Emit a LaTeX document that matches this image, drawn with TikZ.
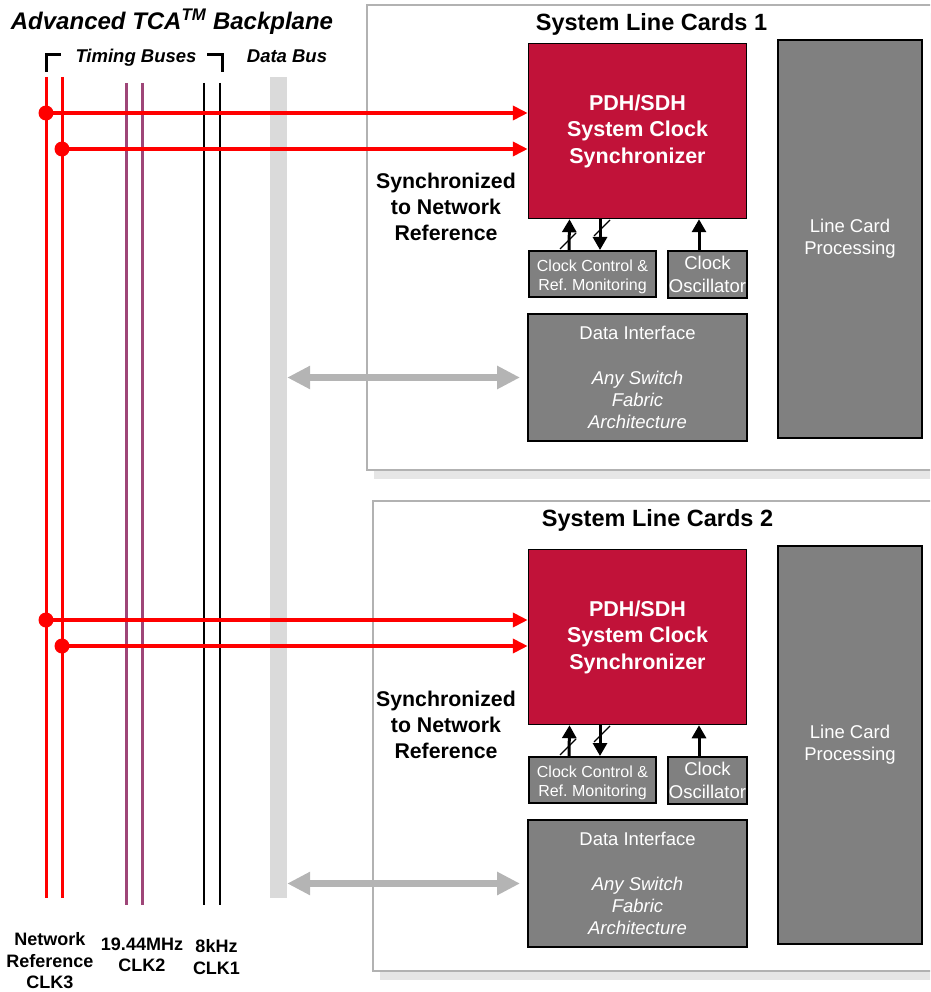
\documentclass[tikz,border=0pt]{standalone}
\usepackage{fontspec}
\setmainfont{Liberation Sans}
\usetikzlibrary{arrows.meta}
\frenchspacing

\definecolor{crimson}{RGB}{193,18,57}
\definecolor{boxgray}{RGB}{128,128,128}
\definecolor{busred}{RGB}{255,0,0}
\definecolor{buspurple}{RGB}{158,70,120}
\definecolor{busgray}{RGB}{218,218,218}
\definecolor{framegray}{RGB}{178,178,178}
\definecolor{shadowgray}{RGB}{230,230,230}
\definecolor{linkgray}{RGB}{180,180,180}

\newcommand\fsz[2]{\fontsize{#1}{#2}\selectfont}

\tikzset{
  pdhbox/.style={draw=black, line width=1.5, fill=crimson, text=white, align=center,
    inner sep=0, minimum width=218, minimum height=175, font=\fsz{21.5}{26.5}\bfseries},
  graybox/.style={draw=black, line width=2, fill=boxgray, text=white, align=center, inner sep=0},
  boxtext/.style={text=white, align=center, inner sep=0},
  cardtitle/.style={font=\fsz{23.5}{28}\bfseries, inner sep=0},
  synctext/.style={font=\fsz{21.3}{26}\bfseries, align=center, inner sep=0},
  buslabel/.style={font=\fsz{18}{21.5}\bfseries, align=center, inner sep=0},
  sig/.style={line width=3, -{Triangle[length=13,width=14]}},
  slash/.style={line width=1.3},
  tap/.style={busred, line width=4, -{Triangle[length=15,width=14]}},
  link/.style={linkgray, line width=7, {Triangle[length=23,width=22]}-{Triangle[length=23,width=22]}},
  cardframe/.style={draw=framegray, line width=2.5, fill=white},
}

% Contents of one line card; #1 = name suffix, #2 = vertical offset
\newcommand\cardbody[2]{%
\begin{scope}[shift={(0,#2)}]
  \node[pdhbox] (pdh#1) at (637.5,131) {PDH/SDH\\System Clock\\Synchronizer};
  \node[graybox, minimum width=144, minimum height=398, font=\fsz{18.5}{22}] (proc#1) at (850,239) {Line Card\\Processing};
  \node[graybox, minimum width=127, minimum height=46] (ctrl#1) at (592.5,274) {};
  \node[boxtext, font=\fsz{16}{19}] (ctrltext#1) at ([yshift=-2.5]ctrl#1.center) {Clock Control \&\\Ref. Monitoring};
  \node[graybox, minimum width=79, minimum height=47, font=\fsz{18.5}{23}] (osc#1) at (707.5,274.5) {Clock\\Oscillator};
  \node[graybox, minimum width=219, minimum height=127, font=\fsz{18.5}{22.3}] (di#1) at (637.5,377.5)
    {Data Interface\\[22.3pt]\textit{Any Switch}\\\textit{Fabric}\\\textit{Architecture}};
  \draw[sig] ([xshift=-23.5]ctrl#1.north) -- ([xshift=-68]pdh#1.south);
  \draw[sig] ([xshift=-37.5]pdh#1.south) -- ([xshift=7.5]ctrl#1.north);
  \draw[sig] ([xshift=-8.5]osc#1.north) -- ([xshift=61.5]pdh#1.south);
  \draw[slash] (560,249) -- (576,233);
  \draw[slash] (594,236) -- (610,220);
\end{scope}}

\begin{document}
\begin{tikzpicture}[x=1pt, y=-1pt]
  \clip (0,0) rectangle (930,992);

  % line card frames with drop shadows
  \fill[shadowgray] (374,13) rectangle (950,479);
  \draw[cardframe] (367,5) rectangle (945,470);
  \fill[shadowgray] (380,509) rectangle (950,980);
  \draw[cardframe] (373,501) rectangle (945,971);
  \node[cardtitle] (title1) at (651.5,24) {System Line Cards 1};
  \node[cardtitle] (title2) at (657.5,520) {System Line Cards 2};

  \cardbody{1}{0}
  \cardbody{2}{506}

  \node[synctext] (sync1) at (446,207) {Synchronized\\to Network\\Reference};
  \node[synctext] (sync2) at (446,724.5) {Synchronized\\to Network\\Reference};

  % backplane headings
  \node[font=\fsz{24}{28}\bfseries\itshape, inner sep=0] (head) at (172,22)
    {Advanced TCA\textsuperscript{TM} Backplane};
  \node[font=\fsz{18.5}{22}\bfseries\itshape, inner sep=0] (timing) at (136,58) {Timing Buses};
  \node[font=\fsz{18.5}{22}\bfseries\itshape, inner sep=0] (databus) at (287,56.5) {Data Bus};
  \draw[line width=3] (46,72) -- (46,55) -- (61,55);
  \draw[line width=3] (207,55) -- (222,55) -- (222,72);

  % data bus
  \node[fill=busgray, minimum width=17, minimum height=821, inner sep=0] (bus) at (278.5,487.5) {};

  % timing buses
  \draw[busred, line width=3] (46,77) -- (46,898);
  \draw[busred, line width=3] (62,77) -- (62,898);
  \draw[buspurple, line width=3] (126,83) -- (126,905);
  \draw[buspurple, line width=3] (142,83) -- (142,905);
  \draw[line width=2.8] (204,83) -- (204,905);
  \draw[line width=2.8] (220,83) -- (220,905);

  % data bus links
  \draw[link] (bus.east |- di1.west) -- ([xshift=-7]di1.west);
  \draw[link] (bus.east |- di2.west) -- ([xshift=-7]di2.west);

  % clock reference taps
  \coordinate (tapA1) at (46,113);
  \coordinate (tapB1) at (62,149);
  \coordinate (tapA2) at (46,620);
  \coordinate (tapB2) at (62,646);
  \foreach \t/\c in {tapA1/pdh1, tapB1/pdh1, tapA2/pdh2, tapB2/pdh2} {
    \draw[tap] (\t) -- (\t -| \c.west);
    \fill[busred] (\t) circle[radius=7.5];
  }

  % bus labels
  \node[buslabel] (lab3) at (50,961) {Network\\Reference\\CLK3};
  \node[buslabel] (lab2) at (142,955) {19.44MHz\\CLK2};
  \node[buslabel] (lab1) at (216.5,957) {8kHz\\CLK1};
\end{tikzpicture}
\end{document}
